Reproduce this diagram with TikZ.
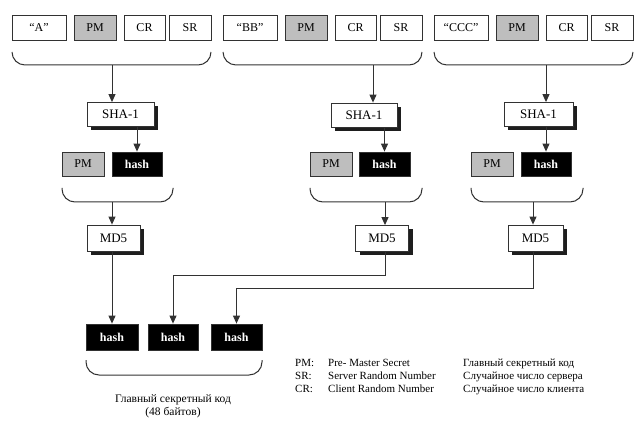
\documentclass[tikz,border=0pt]{standalone}
\usepackage{fontspec}
\setmainfont{Liberation Serif}
\usepackage{xcolor}
\usetikzlibrary{arrows.meta}

\tikzset{
  cell/.style={draw=lineGray, line width=0.8pt, fill=white, inner sep=0pt, minimum height=25pt, font=\fontsize{12}{14}\selectfont},
  pmcell/.style={cell, fill=keyGray},
  hashcell/.style={cell, fill=black, text=white, font=\fontsize{12}{14}\selectfont\bfseries},
  func/.style={cell, minimum height=24pt, font=\fontsize{13}{15}\selectfont},
  boxshadow/.style={fill=shadowGray, draw=none},
  flow/.style={draw=lineGray, line width=1pt, -{Triangle[length=8pt,width=7pt]}},
  brace/.style={draw=lineGray, line width=1pt, rounded corners=13pt}
}

\begin{document}
\begin{tikzpicture}[x=1pt,y=-1pt]
\definecolor{lineGray}{RGB}{50,50,50}
\definecolor{keyGray}{RGB}{190,190,190}
\definecolor{shadowGray}{RGB}{30,30,30}
\useasboundingbox (0,0) rectangle (642,438);

\node[cell, minimum width=54pt] (t1a) at (39,27.5) {“A”};
\node[pmcell, minimum width=42pt] (t1pm) at (95,27.5) {PM};
\node[cell, minimum width=41pt] (t1cr) at (144.5,27.5) {CR};
\node[cell, minimum width=42pt] (t1sr) at (190,27.5) {SR};
\node[cell, minimum width=54pt] (t2a) at (250,27.5) {“BB”};
\node[pmcell, minimum width=42pt] (t2pm) at (306,27.5) {PM};
\node[cell, minimum width=41pt] (t2cr) at (355.5,27.5) {CR};
\node[cell, minimum width=42pt] (t2sr) at (401,27.5) {SR};
\node[cell, minimum width=54pt] (t3a) at (461,27.5) {“CCC”};
\node[pmcell, minimum width=42pt] (t3pm) at (517,27.5) {PM};
\node[cell, minimum width=41pt] (t3cr) at (566.5,27.5) {CR};
\node[cell, minimum width=42pt] (t3sr) at (612,27.5) {SR};

\draw[brace] (12,52) -- (12,65) -- (211,65) -- (211,52);
\draw[brace] (223,52) -- (223,65) -- (422,65) -- (422,52);
\draw[brace] (434,52) -- (434,65) -- (633,65) -- (633,52);
\coordinate (b1) at (112,65);
\coordinate (b2) at (373,65);
\coordinate (b3) at (546,65);

% shadows of the function boxes
\fill[boxshadow] (91,106.5) rectangle (158,130.5);
\fill[boxshadow] (334.5,107) rectangle (400.5,131);
\fill[boxshadow] (508,106.5) rectangle (577,130.5);
\fill[boxshadow] (91,229) rectangle (144,255);
\fill[boxshadow] (359.5,229.5) rectangle (412.5,255.5);
\fill[boxshadow] (512,229) rectangle (567,255);

\node[func, minimum width=67pt] (sha1) at (120.5,114.5) {SHA-1};
\node[func, minimum width=66pt] (sha2) at (364,115) {SHA-1};
\node[func, minimum width=69pt] (sha3) at (538.5,114.5) {SHA-1};
\draw[flow] (b1) -- (b1 |- sha1.north);
\draw[flow] (b2) -- (b2 |- sha2.north);
\draw[flow] (b3) -- (b3 |- sha3.north);

\node[pmcell, minimum width=42pt, minimum height=24pt] (m1pm) at (83,164) {PM};
\node[hashcell, minimum width=50pt, minimum height=24pt] (m1h) at (137,164) {hash};
\node[pmcell, minimum width=42pt, minimum height=24pt] (m2pm) at (331,164) {PM};
\node[hashcell, minimum width=51pt, minimum height=24pt] (m2h) at (384.5,164) {hash};
\node[pmcell, minimum width=42pt, minimum height=24pt] (m3pm) at (492,164) {PM};
\node[hashcell, minimum width=50pt, minimum height=24pt] (m3h) at (546,164) {hash};
\draw[flow] (m1h.north |- sha1.south) -- (m1h.north);
\draw[flow] (m2h.north |- sha2.south) -- (m2h.north);
\draw[flow] (m3h.north |- sha3.south) -- (m3h.north);

\draw[brace] (62,188) -- (62,202) -- (173,202) -- (173,188);
\draw[brace] (310,188) -- (310,202) -- (422,202) -- (422,188);
\draw[brace] (471,188) -- (471,202) -- (583,202) -- (583,188);
\coordinate (c1) at (112,202);
\coordinate (c2) at (385,202);
\coordinate (c3) at (533,202);

\node[func, minimum width=53pt, minimum height=26pt] (md1) at (113.5,238) {MD5};
\node[func, minimum width=53pt, minimum height=26pt] (md2) at (382,238.5) {MD5};
\node[func, minimum width=55pt, minimum height=26pt] (md3) at (535.5,238) {MD5};
\draw[flow] (c1) -- (c1 |- md1.north);
\draw[flow] (c2) -- (c2 |- md2.north);
\draw[flow] (c3) -- (c3 |- md3.north);

\node[hashcell, minimum width=52pt, minimum height=26pt] (f1) at (112,337) {hash};
\node[hashcell, minimum width=50pt, minimum height=26pt] (f2) at (173,337) {hash};
\node[hashcell, minimum width=51pt, minimum height=26pt] (f3) at (236.5,337) {hash};
\draw[flow] (f1.north |- md1.south) -- (f1.north);
\draw[flow] (c2 |- md2.south) -- (c2 |- 0,275) -| (f2.north);
\draw[flow] (c3 |- md3.south) -- (c3 |- 0,288) -| (f3.north);

\draw[brace] (86,360) -- (86,375) -- (262,375) -- (262,360);
\node[align=center, inner sep=0pt, font=\fontsize{11.5}{13}\selectfont] (master) at (173,406.5) {Главный секретный код\\(48 байтов)};

\node[anchor=north west, inner sep=0pt, font=\fontsize{11}{13}\selectfont] (legend) at (295,357)
  {\begin{tabular}{@{}p{33pt}@{}p{135pt}@{}l@{}}
   PM: & Pre- Master Secret & Главный секретный код\\
   SR: & Server Random Number & Случайное число сервера\\
   CR: & Client Random Number & Случайное число клиента
   \end{tabular}};
\end{tikzpicture}
\end{document}
